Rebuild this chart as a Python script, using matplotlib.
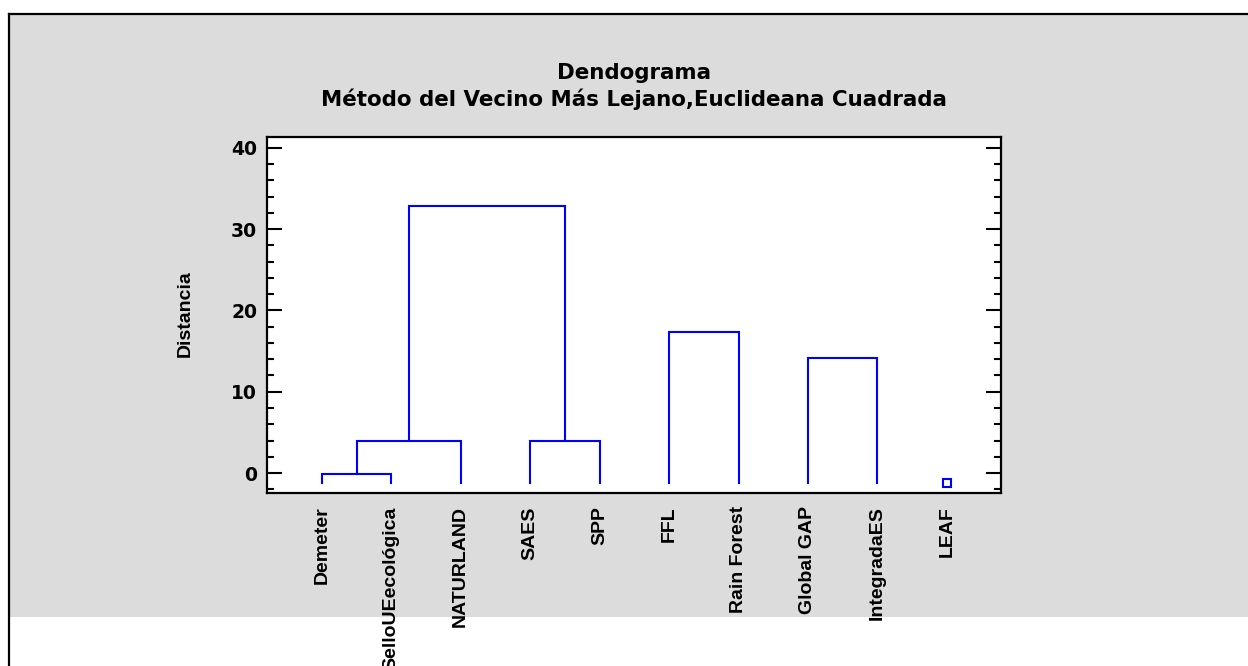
import matplotlib
matplotlib.use("Agg")
import matplotlib.pyplot as plt
from matplotlib.patches import Rectangle
from matplotlib.ticker import MultipleLocator

# ---- data ----
leaves = ["Demeter", "SelloUEecológica", "NATURLAND", "SAES", "SPP",
          "FFL", "Rain Forest", "Global GAP", "IntegradaES", "LEAF"]
leaf_base = -1.2
# merges: (left node, right node, height); nodes: leaf index or "m<k>"
merge_left = [0, "m0", 3, "m1", 5, 7]
merge_right = [1, 2, 4, "m2", 6, 8]
merge_height = [-0.1, 4.0, 4.0, 32.8, 17.3, 14.1]
singletons = [9]

title_lines = ["Dendograma", "Método del Vecino Más Lejano,Euclideana Cuadrada"]
ylabel = "Distancia"
yticks = [0, 10, 20, 30, 40]

W, H = 1248, 666
fig = plt.figure(figsize=(W / 100, H / 100), dpi=100, facecolor="white")

# background axes holding gray panel and frame
bg = fig.add_axes([0, 0, 1, 1], zorder=-10)
bg.set_xlim(0, W)
bg.set_ylim(H, 0)
bg.axis("off")
bg.add_patch(Rectangle((9, 14), W, 617 - 14, facecolor="#dcdcdc",
                       edgecolor="none"))
bg.plot([8.5, W], [13.5, 13.5], color="black", lw=1.6)
bg.plot([8.5, 8.5], [13.5, H], color="black", lw=1.6)

ax = fig.add_axes([267 / W, 1 - 493 / H, (1001 - 267) / W, (493 - 137) / H],
                  zorder=1)
ax.set_facecolor("white")

blue = "#0000ff"
pos = {}
top = {}
for i in range(len(leaves)):
    pos[i] = float(i)
    top[i] = leaf_base

for k, (l, r, h) in enumerate(zip(merge_left, merge_right, merge_height)):
    xl, xr = pos[l], pos[r]
    ax.plot([xl, xl, xr, xr], [top[l], h, h, top[r]], color=blue, lw=1.5,
            solid_joinstyle="miter")
    pos[f"m{k}"] = (xl + xr) / 2
    top[f"m{k}"] = h

for s in singletons:
    ax.plot([pos[s]], [leaf_base], marker="s", ms=5.5, mfc="none", mec=blue,
            mew=1.5, linestyle="none")

ax.set_xlim(-0.79, 9.78)
ax.set_ylim(-2.46, 41.35)

lab_font = ["Liberation Sans", "DejaVu Sans"]
ax.set_xticks(range(len(leaves)))
ax.set_xticklabels(leaves, rotation=90, fontfamily=lab_font,
                   fontweight="bold", fontsize=14)
ax.tick_params(axis="x", length=0, pad=9.5)

ax.set_yticks(yticks)
ax.set_yticklabels([str(v) for v in yticks], fontfamily="DejaVu Sans",
                   fontweight="bold", fontsize=13.5)
ax.yaxis.set_minor_locator(MultipleLocator(2))
ax.tick_params(axis="y", which="major", direction="in", length=11, width=1.5,
               left=True, right=True, pad=7)
ax.tick_params(axis="y", which="minor", direction="in", length=5, width=1.5,
               left=True, right=True)

for sp in ax.spines.values():
    sp.set_linewidth(1.6)
    sp.set_color("black")

fig.text(185 / W, 1 - 314 / H, ylabel, rotation=90, ha="center", va="center",
         fontfamily=lab_font, fontweight="bold", fontsize=14)

cx = (267 + 1001) / 2 / W
fig.text(cx, 1 - 73 / H, title_lines[0], ha="center", va="center",
         fontfamily="DejaVu Sans", fontweight="bold", fontsize=15.4)
fig.text(cx, 1 - 99 / H, title_lines[1], ha="center", va="center",
         fontfamily="DejaVu Sans", fontweight="bold", fontsize=15.4)

fig.savefig("out.png", dpi=100, facecolor="white")
